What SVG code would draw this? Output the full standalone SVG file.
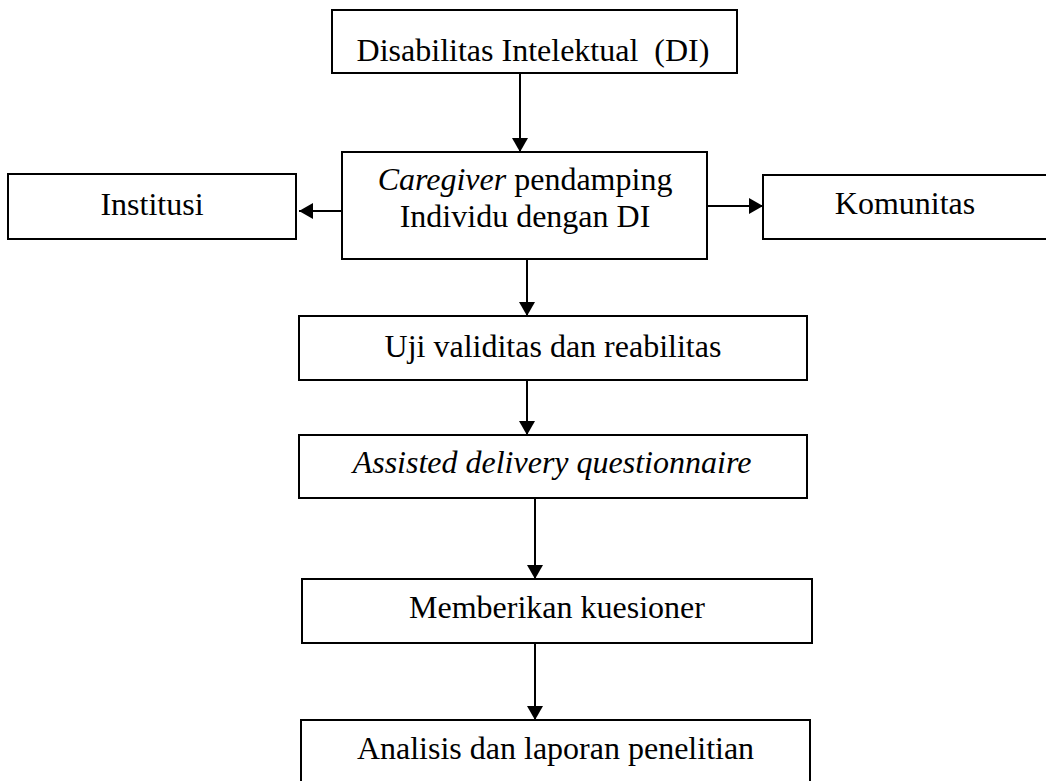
<svg xmlns="http://www.w3.org/2000/svg" width="1046" height="781" viewBox="0 0 1046 781">
<style>
.box{fill:#fff;stroke:#000;stroke-width:2}
.t{font-family:"Liberation Serif","Times New Roman",serif;font-size:32px;fill:#000;text-anchor:middle;white-space:pre}
.i{font-style:italic}
.c{stroke:#000;stroke-width:2;fill:none;marker-end:url(#ah)}
</style>
<defs>
<marker id="ah" markerUnits="userSpaceOnUse" markerWidth="16" markerHeight="16" refX="14" refY="8" orient="auto">
<path d="M0,0 L14,8 L0,16 Z" fill="#000"/>
</marker>
</defs>
<rect width="1046" height="781" fill="#fff"/>
<g id="connectors">
<line class="c" x1="520" y1="73" x2="520" y2="152"/>
<line class="c" x1="342" y1="211" x2="299" y2="211"/>
<line class="c" x1="707" y1="206" x2="763" y2="206"/>
<line class="c" x1="527" y1="259" x2="527" y2="316"/>
<line class="c" x1="527" y1="380" x2="527" y2="435"/>
<line class="c" x1="535" y1="498" x2="535" y2="579"/>
<line class="c" x1="535" y1="643" x2="535" y2="720"/>
</g>
<g id="n-di">
<rect class="box" x="332" y="10" width="405" height="63"/>
<text class="t" x="533" y="61" xml:space="preserve">Disabilitas Intelektual  (DI)</text>
</g>
<g id="n-caregiver">
<rect class="box" x="342" y="152" width="365" height="107"/>
<text class="t" x="525" y="190"><tspan class="i">Caregiver</tspan> pendamping</text>
<text class="t" x="525" y="227">Individu dengan DI</text>
</g>
<g id="n-institusi">
<rect class="box" x="8" y="174" width="288" height="65"/>
<text class="t" x="152" y="215">Institusi</text>
</g>
<g id="n-komunitas">
<rect class="box" x="763" y="175" width="300" height="64"/>
<text class="t" x="905" y="214">Komunitas</text>
</g>
<g id="n-uji">
<rect class="box" x="299" y="316" width="508" height="64"/>
<text class="t" x="553" y="357">Uji validitas dan reabilitas</text>
</g>
<g id="n-assisted">
<rect class="box" x="299" y="435" width="508" height="63"/>
<text class="t i" x="552" y="473">Assisted delivery questionnaire</text>
</g>
<g id="n-memberikan">
<rect class="box" x="302" y="579" width="510" height="64"/>
<text class="t" x="557" y="618">Memberikan kuesioner</text>
</g>
<g id="n-analisis">
<rect class="box" x="301" y="720" width="509" height="80"/>
<text class="t" x="555.5" y="759">Analisis dan laporan penelitian</text>
</g>
</svg>
